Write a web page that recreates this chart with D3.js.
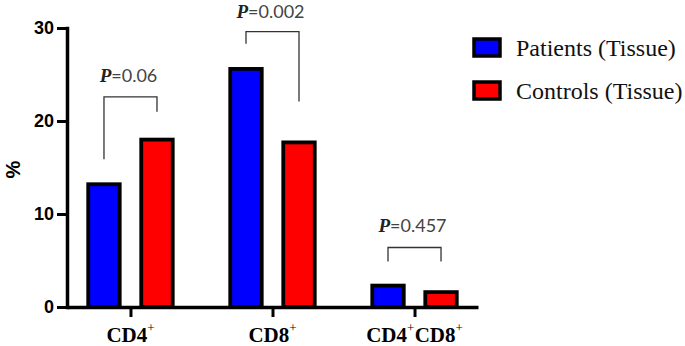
<!DOCTYPE html>
<html>
<head>
<meta charset="utf-8">
<script src="https://cdn.jsdelivr.net/npm/d3@7"></script>
<style>
  body { margin: 0; background: #fff; }
  .serif { font-family: "Liberation Serif", Tinos, "Times New Roman", "DejaVu Serif", serif; }
</style>
</head>
<body>
<div id="chart"></div>
<script>
// values
const categories = ["CD4", "CD8", "CD4CD8"];
const categoryLabels = [["CD4"], ["CD8"], ["CD4", "CD8"]];   // each part gets a "+" superscript
const series = ["Patients (Tissue)", "Controls (Tissue)"];
const patients = [13.2, 25.6, 2.3];
const controls = [18.0, 17.7, 1.6];
const yTicks = [0, 10, 20, 30];
const pValues = ["0.06", "0.002", "0.457"];
const bracketTop = [22.6, 29.6, 6.4];
const bracketLeftEnd = [15.9, 28.3, 4.9];
const bracketRightEnd = [21.0, 22.1, 4.9];

const width = 685,
      height = 346;
const colors = ["#0000ff", "#ff0000"];
const sans = "'Liberation Sans', Arial, sans-serif";

const svg = d3.select("#chart")
  .append("svg")
  .attr("width", width)
  .attr("height", height);

const y = d3.scaleLinear()
  .domain([0, 30])
  .range([307, 28]);

const x0 = d3.scalePoint()
  .domain(categories)
  .range([67, 478])
  .padding(0.447);

const x1 = d3.scaleBand()
  .domain(series)
  .range([-42.25, 42.25])
  .paddingInner(0.406);

const rows = categories.map((c, i) => ({cat: c, values: [patients[i], controls[i]]}));

// bars
const group = svg.append("g")
  .selectAll("g")
  .data(rows)
  .join("g")
  .attr("transform", d => `translate(${x0(d.cat)},0)`);

group.selectAll("rect")
  .data(d => d.values.map((v, k) => ({s: series[k], v, k})))
  .join("rect")
  .attr("x", d => x1(d.s))
  .attr("y", d => y(d.v))
  .attr("width", x1.bandwidth())
  .attr("height", d => y(0) - y(d.v))
  .attr("fill", d => colors[d.k])
  .attr("stroke", "#000")
  .attr("stroke-width", 3.8);

// y axis
const yAxis = svg.append("g")
  .attr("transform", `translate(${x0.range()[0]},0)`)
  .call(d3.axisLeft(y).tickValues(yTicks).tickSize(10).tickSizeOuter(0).tickPadding(3));
yAxis.select(".domain").attr("stroke-width", 3.5).attr("stroke-linecap", "square");
yAxis.selectAll(".tick line").attr("stroke-width", 3);
yAxis.selectAll(".tick text")
  .attr("font-family", sans)
  .attr("font-weight", "bold")
  .attr("font-size", 18)
  .attr("fill", "#000");

// x axis
const xAxis = svg.append("g")
  .attr("transform", `translate(0,${y(0)})`)
  .call(d3.axisBottom(x0).tickSize(10).tickSizeOuter(0).tickFormat(""));
xAxis.select(".domain").attr("stroke-width", 3.5);
xAxis.selectAll(".tick line").attr("stroke-width", 3);

// category labels with superscript +
const labels = svg.append("g")
  .selectAll("text")
  .data(categories)
  .join("text")
  .attr("class", "serif")
  .attr("x", d => x0(d))
  .attr("y", 342)
  .attr("text-anchor", "middle")
  .attr("font-weight", "bold")
  .attr("font-size", 21)
  .attr("fill", "#000");

labels.each(function(d, i) {
  const t = d3.select(this);
  categoryLabels[i].forEach(part => {
    t.append("tspan").text(part);
    t.append("tspan")
      .attr("dy", -10)
      .attr("font-size", 13)
      .attr("font-weight", "normal")
      .text("+");
    t.append("tspan").attr("dy", 10).attr("font-size", 1).text(" ");
  });
});

// "%" axis title
svg.append("text")
  .attr("transform", `translate(20,${(y(0) + y(30)) / 2 + 2}) rotate(-90)`)
  .attr("text-anchor", "middle")
  .attr("font-family", sans)
  .attr("font-weight", "bold")
  .attr("font-size", 20)
  .text("%");

// significance brackets
const center = (i, k) => x0(categories[i]) + x1(series[k]) + x1.bandwidth() / 2;

const brackets = svg.append("g")
  .selectAll("g")
  .data(pValues)
  .join("g");

brackets.append("path")
  .attr("fill", "none")
  .attr("stroke", "#333")
  .attr("stroke-width", 1.3)
  .attr("d", (d, i) => d3.line()([
    [center(i, 0), y(bracketLeftEnd[i])],
    [center(i, 0), y(bracketTop[i])],
    [center(i, 1), y(bracketTop[i])],
    [center(i, 1), y(bracketRightEnd[i])]
  ]));

const ptext = brackets.append("text")
  .attr("x", (d, i) => (center(i, 0) + center(i, 1)) / 2 - 2)
  .attr("y", (d, i) => Math.max(y(bracketTop[i]) - 15, 18))
  .attr("text-anchor", "middle")
  .attr("font-size", 18);

ptext.append("tspan")
  .attr("class", "serif")
  .attr("font-weight", "bold")
  .attr("font-style", "italic")
  .attr("font-size", 19)
  .attr("fill", "#222")
  .text("P");
ptext.append("tspan")
  .attr("font-family", "Lato, 'Open Sans', sans-serif")
  .attr("fill", "#444")
  .text(d => "=" + d);

// legend
const legend = svg.append("g")
  .attr("transform", "translate(474,39)")
  .selectAll("g")
  .data(series)
  .join("g")
  .attr("transform", (d, i) => `translate(0,${i * 43})`);

legend.append("rect")
  .attr("width", 26)
  .attr("height", 17)
  .attr("fill", (d, i) => colors[i])
  .attr("stroke", "#000")
  .attr("stroke-width", 3.5);

legend.append("text")
  .attr("class", "serif")
  .attr("x", 42)
  .attr("y", 9)
  .attr("dy", "0.35em")
  .attr("font-size", 24)
  .attr("fill", "#111")
  .text(d => d);
</script>
</body>
</html>
